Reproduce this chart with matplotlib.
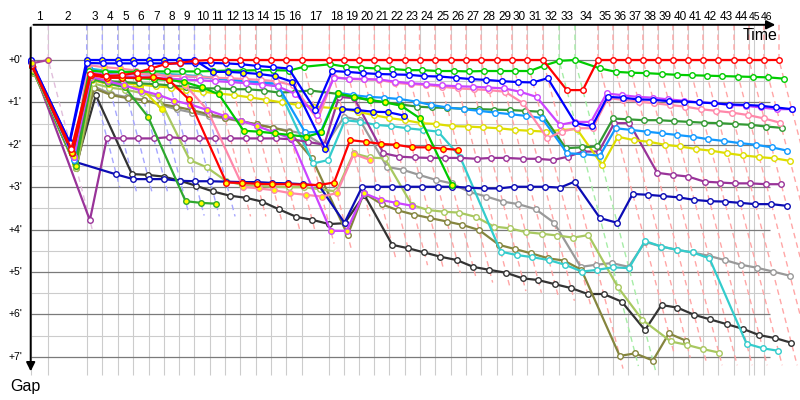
import matplotlib
matplotlib.use("Agg")
import matplotlib.pyplot as plt
from matplotlib.colors import to_rgb

N = None

# leader's elapsed time (minutes) at the end of each lap (index = lap)
lap_times = [0.00, 1.60, 5.09, 6.51, 7.91, 9.33, 10.75, 12.10, 13.46, 14.89,
             16.30, 17.69, 19.03, 20.45, 21.82, 23.25, 24.69, 27.15, 28.51, 29.87,
             31.24, 32.60, 34.03, 35.35, 36.75, 38.21, 39.57, 40.94, 42.39, 43.75,
             45.12, 46.57, 48.03, 49.48, 51.57, 52.94, 54.30, 55.66, 57.03, 58.39,
             59.75, 61.12, 62.48, 63.94, 65.30, 65.75, 66.66, 68.03]
lap_labels = [str(i) for i in range(1, 47)]
gap_ticks = [0, 1, 2, 3, 4, 5, 6, 7]

# gap to leader (minutes), one value per lap
red = [0.12, 2.10, 0.32, 0.38, 0.36, 0.30, 0.20, 0.10, 0.07, 0.02,
       0.00, 0.00, 0.00, 0.00, 0.00, 0.00, 0.00, 0.00, 0.00, 0.00,
       0.00, 0.00, 0.00, 0.00, 0.00, 0.00, 0.00, 0.00, 0.00, 0.00,
       0.00, 0.00, 0.71, 0.71, 0.00, 0.00, 0.00, 0.00, 0.00, 0.00,
       0.00, 0.00, 0.00, 0.00, 0.00, N, 0.00, 0.00]
red_y = [0.15, 2.20, 0.35, 0.42, 0.42, 0.42, 0.41, 0.47, 0.93, 2.89,
         2.90, 2.92, 2.93, 2.93, 2.94, 2.95, 2.89, 1.89, 1.93, 1.98,
         2.00, 2.06, 2.06, 2.09, 2.12]
green = [0.15, 2.20, 0.25, 0.28, 0.28, 0.28, 0.27, 0.27, 0.27, 0.27,
         0.26, 0.25, 0.25, 0.24, 0.24, 0.25, 0.16, 0.10, 0.16, 0.18,
         0.20, 0.21, 0.24, 0.24, 0.26, 0.26, 0.27, 0.26, 0.26, 0.26,
         0.26, 0.13, 0.02, 0.00, 0.20, 0.28, 0.30, 0.31, 0.33, 0.35,
         0.36, 0.37, 0.38, 0.39, 0.40, N, 0.41, 0.44]
green_y = [0.15, 2.20, 0.35, 0.40, 0.42, 0.43, 0.45, 0.47, 0.52, 0.64,
           0.81, 1.67, 1.69, 1.73, 1.77, 1.81, 1.71, 0.79, 0.87, 0.94,
           1.00, 1.08, 1.38, 2.95]
blue = [0.00, 1.95, 0.07, 0.08, 0.08, 0.08, 0.08, 0.08, 0.08, 0.08,
        0.07, 0.08, 0.10, 0.14, 0.17, 0.20, 1.18, 0.26, 0.28, 0.31,
        0.33, 0.34, 0.35, 0.38, 0.39, 0.42, 0.45, 0.47, 0.50, 0.52,
        0.53, 0.43, 1.49, 1.56, 0.87, 0.89, 0.93, 0.94, 0.97, 0.98,
        1.00, 1.02, 1.05, 1.06, 1.08, N, 1.12, 1.16]
blue_y = [0.02, 1.93, 0.00, 0.00, 0.00, 0.00, 0.00, 0.00, 0.00, 0.00,
          0.28, 0.28, 0.30, 0.33, 0.38, 0.51, 2.10, 1.16, 1.18, 1.22,
          1.23, 1.31]
navy = [0.05, 2.40, 2.70, 2.81, 2.81, 2.81, 2.85, 2.86, 2.86, 2.87,
        2.88, 2.88, 2.90, 2.91, 2.93, 2.96, 3.84, 2.99, 2.99, 2.99,
        2.99, 2.99, 2.99, 2.99, 3.01, 3.03, 3.03, 2.99, 2.99, 2.99,
        3.01, 2.87, 3.73, 3.84, 3.16, 3.18, 3.21, 3.24, 3.30, 3.33,
        3.34, 3.37, 3.40, 3.40, 3.44]
violet = [0.10, 2.30, 0.30, 0.35, 0.38, 0.40, 0.42, 0.44, 0.46, 0.48,
          0.50, 0.52, 0.55, 0.58, 0.62, 0.80, 1.30, 0.42, 0.44, 0.45,
          0.46, 0.51, 0.55, 0.57, 0.60, 0.62, 0.63, 0.65, 0.67, 0.75,
          0.87, 1.53, 1.46, 1.46, 0.79, 0.83, 0.87, 0.89, 0.93, 0.96,
          1.00, 1.02, 1.06, 1.08, 1.12, N, 1.16, 1.16]
violet_y = [0.12, 2.30, 0.40, 0.50, 0.60, 0.72, 0.82, 0.96, 1.05, 1.18,
            1.32, 1.43, 1.56, 1.71, 1.85, 4.03, 4.03, 3.14, 3.30, 3.37,
            3.44]
pink = [0.18, 2.25, 0.25, 0.28, 0.30, 0.32, 0.35, 0.37, 0.38, 0.40,
        0.42, 0.43, 0.45, 0.47, 0.50, 0.60, 1.41, 0.40, 0.45, 0.46,
        0.47, 0.54, 0.57, 0.59, 0.63, 0.67, 0.69, 0.71, 0.75, 1.02,
        1.85, 1.69, 1.61, 1.61, 0.90, 0.94, 0.98, 1.02, 1.06, 1.10,
        1.16, 1.20, 1.24, 1.30, 1.38, N, 1.48]
pink_y = [0.20, 2.30, 0.12, 0.17, 0.20, 0.25, 0.30, 0.40, 0.59, 1.18,
          2.99, 3.03, 3.07, 3.14, 3.18, 3.22, 3.14, 2.22, 2.36]
skyblue = [0.20, 2.35, 0.20, 0.30, 0.32, 0.33, 0.35, 0.36, 0.38, 0.40,
           0.44, 0.47, 0.50, 0.53, 0.56, 1.71, 1.69, 0.77, 0.83, 0.87,
           0.89, 0.92, 0.98, 1.06, 1.12, 1.16, 1.20, 1.24, 1.28, 1.32,
           1.37, 2.20, 2.22, 2.26, 1.61, 1.65, 1.69, 1.73, 1.77, 1.81,
           1.87, 1.91, 1.96, 2.00, 2.06, N, 2.14]
forest = [0.20, 2.40, 0.45, 0.50, 0.52, 0.55, 0.57, 0.60, 0.63, 0.67,
          0.67, 0.69, 0.69, 0.72, 0.77, 0.75, 0.72, 0.80, 0.88, 0.95,
          1.00, 1.05, 1.10, 1.12, 1.13, 1.15, 1.16, 1.17, 1.18, 1.20,
          1.22, 2.08, 2.06, 2.04, 1.38, 1.40, 1.42, 1.42, 1.44, 1.46,
          1.48, 1.49, 1.51, 1.53, 1.57, N, 1.60]
forest_y = [0.25, 2.50, 0.45, 0.55, 0.64, 1.34, 3.33, 3.37, 3.39]
yellow = [0.25, 2.45, 0.40, 0.50, 0.55, 0.58, 0.62, 0.65, 0.70, 0.75,
          0.79, 0.83, 0.88, 0.94, 1.00, 1.06, 1.10, 1.15, 1.22, 1.30,
          1.37, 1.42, 1.49, 1.51, 1.56, 1.57, 1.59, 1.61, 1.65, 1.67,
          1.69, 1.65, 1.63, 2.48, 1.81, 1.89, 1.93, 2.00, 2.04, 2.10,
          2.14, 2.20, 2.25, 2.29, 2.32, N, 2.38]
yellow_y = [0.25, 2.50, 0.47, 0.57, 0.63, 0.64, 1.16]
purple = [0.08, 3.78, 1.84, 1.85, 1.85, 1.85, 1.82, 1.85, 1.85, 1.85,
          1.85, 1.85, 1.85, 1.85, 1.87, 1.93, 2.00, 0.87, 0.90, 2.20,
          2.28, 2.30, 2.31, 2.31, 2.31, 2.33, 2.31, 2.31, 2.33, 2.33,
          2.36, 2.28, 2.16, 2.16, 1.49, 1.49, 2.66, 2.71, 2.75, 2.87,
          2.89, 2.91, 2.91, 2.93, 2.93]
purple_y = [0.08, 0.00]
gray = [0.28, 2.55, 0.62, 0.80, 0.88, 0.94, 1.06, 1.16, 1.24, 1.32,
        1.38, 1.45, 1.52, 1.60, 1.67, 1.75, 2.04, 1.34, 1.42, 2.52,
        2.59, 2.71, 2.83, 2.91, 3.11, 3.22, 3.34, 3.40, 3.52, 3.84,
        4.88, 4.83, 4.79, 4.88, 4.29, 4.40, 4.48, 4.54, 4.62, 4.72,
        4.83, 4.90, 4.99, 5.09]
olive = [0.30, 2.55, 0.67, 0.83, 0.90, 0.95, 1.04, 1.10, 1.18, 1.28,
         1.36, 1.44, 1.52, 1.60, 1.69, 2.32, 4.13, 3.14, 3.40, 3.55,
         3.65, 3.73, 3.81, 3.89, 4.01, 4.36, 4.46, 4.56, 4.68, 4.73,
         4.95, 6.98, 6.92, 7.09, 6.45, 6.62]
black = [0.30, 2.50, 0.83, 2.69, 2.71, 2.75, 2.85, 2.97, 3.10, 3.20,
         3.25, 3.34, 3.52, 3.70, 3.77, 3.87, 3.85, 3.18, 4.36, 4.44,
         4.54, 4.64, 4.72, 4.88, 4.95, 5.02, 5.15, 5.19, 5.29, 5.38,
         5.52, 5.52, 5.70, 6.37, 5.78, 5.84, 6.01, 6.12, 6.23, 6.34,
         6.49, 6.56, 6.67]
lime = [0.30, 2.55, 0.55, 0.65, 0.70, 0.78, 0.87, 2.36, 2.53, 2.85,
        2.95, 2.97, 2.99, 3.00, 3.00, 3.05, 3.10, 2.20, 2.30, 2.32,
        3.42, 3.54, 3.58, 3.60, 3.70, 3.93, 3.97, 4.06, 4.10, 4.14,
        4.19, 4.13, 5.36, 6.13, 6.64, 6.72, 6.82, 6.90]
cyan = [0.15, 2.30, 0.20, 0.25, 0.28, 0.30, 0.32, 0.33, 0.35, 0.38,
        0.42, 0.46, 0.50, 0.54, 0.63, 2.44, 2.36, 1.42, 1.46, 1.53,
        1.56, 1.61, 1.65, 1.69, 2.28, 4.52, 4.60, 4.65, 4.72, 4.83,
        4.99, 4.95, 4.89, 4.91, 4.27, 4.40, 4.48, 4.54, 4.68, 6.69,
        6.80, 6.86]

W, Y = "white", "#ffff00"
series = [  # (gaps, line colour, marker face)
    (black, "#333333", W), (gray, "#999999", W), (olive, "#85853e", W),
    (lime, "#a8c860", W), (cyan, "#33cccc", W), (purple, "#993399", W),
    (navy, "#0c0cb4", W), (yellow, "#dede00", W), (yellow_y, "#dede00", Y),
    (forest, "#339933", W), (forest_y, "#2ea82e", Y), (skyblue, "#1199ff", W),
    (pink, "#ff88aa", W), (pink_y, "#ff88aa", Y), (violet, "#cc44ff", W),
    (violet_y, "#cc44ff", Y), (green_y, "#00c800", Y), (green, "#00cc00", W),
    (red_y, "#ff0000", Y), (blue_y, "#0000ff", Y), (blue, "#0000ff", W),
    (red, "#ff0000", W), (purple_y, "#aa4499", Y),
]

TOP, BOTTOM, RIGHT = -0.83, 7.43, 67.2

fig = plt.figure(figsize=(8, 4), dpi=100)
ax = fig.add_axes([0, 0, 1, 1])
ax.set_xlim(-2.79, 69.94)
ax.set_ylim(8.02, -1.415)
ax.axis("off")

# grid
ax.vlines(lap_times[:47], TOP, BOTTOM, colors="#cccccc", lw=0.8, zorder=0)
ax.hlines([g + 0.5 for g in gap_ticks[:-1]], 0, RIGHT, colors="#cccccc", lw=0.8, zorder=0)
ax.hlines(gap_ticks, 0, RIGHT, colors="#7a7a7a", lw=0.9, zorder=0.5)


def light(c, f=0.35):
    r = to_rgb(c)
    return tuple(1 - f * (1 - v) for v in r)


def last_known(gaps, n):
    vals = [g for g in gaps[:n + 1] if g is not None]
    return vals[-1] if vals else None


# lap lines (dashed), coloured by the leader of that lap, reaching the last car
for n in range(1, len(lap_times)):
    if n == 45:
        continue
    vals = [(s[0][n], s[1]) for s in series if n < len(s[0]) and s[0][n] is not None]
    if not vals:
        continue
    lead_col = min(vals, key=lambda v: v[0])[1]
    tail = [last_known(s[0], n) for s in series]
    L = max(v for v in tail if v is not None) + 0.3
    t = lap_times[n]
    ax.plot([t, t, t + L], [TOP, 0, L], color=light(lead_col), lw=1.0,
            ls=(0, (4, 3)), zorder=1)

# drivers
for k, (gaps, col, face) in enumerate(series):
    xs, ys = [], []
    for n, g in enumerate(gaps):
        if g is None:
            continue
        xs.append(lap_times[n] + g)
        ys.append(g)
    ax.plot(xs, ys, color=col, lw=1.6, marker="o", ms=4.0, mfc=face, mec=col,
            mew=1.0, zorder=2 + k * 0.01, solid_joinstyle="round")

# axes with arrows
ax.annotate("", xy=(67.95, TOP), xytext=(0, TOP),
            arrowprops=dict(arrowstyle="-|>", color="black", lw=1.4, mutation_scale=13),
            zorder=10)
ax.annotate("", xy=(0, BOTTOM - 0.02), xytext=(0, TOP),
            arrowprops=dict(arrowstyle="-|>", color="black", lw=1.4, mutation_scale=13),
            zorder=10)

font = "Liberation Sans"
for i, lab in enumerate(lap_labels):
    if i < 44:
        xm = (lap_times[i] + lap_times[i + 1]) / 2
        ax.text(xm, -1.015, lab, ha="center", va="center", fontsize=8.5, family=font)
    else:
        # the last two laps are squeezed: place them side by side
        x0 = lap_times[44] + (i - 44) * 1.07
        ax.text(x0, -1.015, lab, ha="left", va="center", fontsize=7.5, family=font)
for g in gap_ticks:
    ax.text(-1.43, g, "+%d'" % g, ha="center", va="center", fontsize=7.5, family=font)
ax.text(66.3, -0.57, "Time", ha="center", va="center", fontsize=11.5, family=font)
ax.text(-0.5, 7.70, "Gap", ha="center", va="center", fontsize=11.5, family=font)

fig.savefig("out.png", dpi=100)
